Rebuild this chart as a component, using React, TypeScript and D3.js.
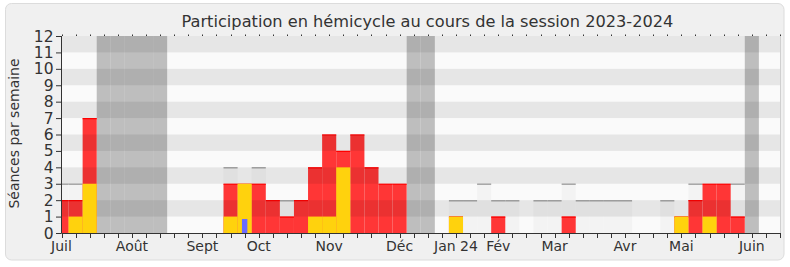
import React, { useEffect } from "react";
import * as d3 from "d3";

const title = "Participation en hémicycle au cours de la session 2023-2024";
const yLabel = "Séances par semaine";
const yTicks = [0, 1, 2, 3, 4, 5, 6, 7, 8, 9, 10, 11, 12];

// 52 weeks, index 0 = first week of July 2023
const totalSeances = [3, 3, 7, 0, 0, 0, 0, 0, 0, 0, 0, 0, 4, 3, 4, 2, 2, 2, 4, 6, 5, 6, 4, 3, 3, 0, 0, 0, 2, 2, 3, 2, 2, 0, 2, 2, 3, 2, 2, 2, 2, 0, 0, 2, 1, 3, 3, 3, 3, 0, 0, 0];
const presences = [2, 2, 7, 0, 0, 0, 0, 0, 0, 0, 0, 0, 3, 3, 3, 2, 1, 2, 4, 6, 5, 6, 4, 3, 3, 0, 0, 0, 1, 0, 0, 1, 0, 0, 0, 0, 1, 0, 0, 0, 0, 0, 0, 0, 1, 2, 3, 3, 1, 0, 0, 0];
const interventions = [0, 1, 3, 0, 0, 0, 0, 0, 0, 0, 0, 0, 1, 3, 0, 0, 0, 0, 1, 1, 4, 0, 0, 0, 0, 0, 0, 0, 1, 0, 0, 0, 0, 0, 0, 0, 0, 0, 0, 0, 0, 0, 0, 0, 1, 0, 1, 0, 0, 0, 0, 0];
const questions = [0, 0, 0, 0, 0, 0, 0, 0, 0, 0, 0, 0, 0, 1, 0, 0, 0, 0, 0, 0, 0, 0, 0, 0, 0, 0, 0, 0, 0, 0, 0, 0, 0, 0, 0, 0, 0, 0, 0, 0, 0, 0, 0, 0, 0, 0, 0, 0, 0, 0, 0, 0];
const vacationWeeks = [3, 4, 5, 6, 7, 25, 26, 49];
const monthLabels = ["Juil", "Août", "Sept", "Oct", "Nov", "Déc", "Jan 24", "Fév", "Mar", "Avr", "Mai", "Juin"];
const monthWeeks = [0, 5, 10, 14, 19, 24, 28, 31, 35, 40, 44, 49];

const W = 790;
const H = 267;
const left = 61.5;
const right = 780;
const top = 36;
const bottom = 233;
const font = "'DejaVu Sans', Verdana, sans-serif";

export default function App() {
  useEffect(() => {
    document.body.style.margin = "0";
  }, []);

  const nWeeks = totalSeances.length;
  const weeks = d3.range(nWeeks);
  const x = d3.scaleLinear().domain([0, nWeeks - 1]).range([left, right]);
  const step = x(1) - x(0);
  const y = d3.scaleLinear().domain([0, 12]).range([bottom, top]);

  const bar = (i: number, v: number, key: string, fill: string, w = step) => (
    <rect key={key} x={x(i) - w / 2} y={y(v)} width={w} height={y(0) - y(v)} fill={fill} />
  );

  return (
    <svg width={W} height={H} style={{ position: "absolute", left: 0, top: 0, background: "#ffffff" }}>
      <defs>
        <clipPath id="plot">
          <rect x={left} y={top} width={right - left} height={bottom - top} />
        </clipPath>
      </defs>
      <rect x={5.5} y={3.5} width={778.5} height={256.5} rx={6} fill="#f0f0f0" stroke="#dcdcdc" />
      <text x={181.5} y={26.5} fontFamily={font} fontSize={16.2} fill="#333">{title}</text>

      <g clipPath="url(#plot)">
        <rect x={left} y={top} width={right - left} height={bottom - top} fill="#fafafa" />
        {vacationWeeks.map((i) => (
          <rect key={"v" + i} x={x(i) - step / 2} y={top} width={step} height={bottom - top} fill="#bebebe" />
        ))}
        {weeks.map((i) => (totalSeances[i] > 0 ? bar(i, totalSeances[i], "t" + i, "#f3f3f3") : null))}
        {weeks.map((i) =>
          totalSeances[i] > presences[i] ? (
            <line key={"tl" + i} x1={x(i) - step / 2} x2={x(i) + step / 2} y1={y(totalSeances[i]) + 0.5} y2={y(totalSeances[i]) + 0.5} stroke="#a8a8a8" strokeWidth={1.5} />
          ) : null
        )}
        {weeks.map((i) => (presences[i] > 0 ? bar(i, presences[i], "p" + i, "#ff3636") : null))}
        {weeks.map((i) =>
          presences[i] > 0 ? (
            <line key={"pl" + i} x1={x(i) - step / 2} x2={x(i) + step / 2} y1={y(presences[i]) + 0.5} y2={y(presences[i]) + 0.5} stroke="#ff0000" strokeWidth={1.2} />
          ) : null
        )}
        {yTicks.slice(0, 12).map((v) =>
          v % 2 === 1 ? (
            <rect key={"s" + v} x={left} y={y(v + 1)} width={right - left} height={y(v) - y(v + 1)} fill="rgba(0,0,0,0.08)" />
          ) : null
        )}
        {weeks.map((i) => (interventions[i] > 0 ? bar(i, interventions[i], "i" + i, "#ffd20d") : null))}
        {weeks.map((i) =>
          questions[i] > 0 ? (
            <rect key={"q" + i} x={x(i) - 2.7} y={y(questions[i]) + 2.4} width={5.4} height={y(0) - y(questions[i]) - 2.4} fill="#6b6bff" />
          ) : null
        )}
      </g>
      <line x1={right + 0.5} x2={right + 0.5} y1={top} y2={bottom} stroke="#d0d0d0" />

      {/* axes */}
      <line x1={left} x2={left} y1={top} y2={bottom} stroke="#333" />
      <line x1={left} x2={right} y1={bottom + 0.5} y2={bottom + 0.5} stroke="#333" />
      {yTicks.map((v) => (
        <g key={"yt" + v}>
          <line x1={56} x2={left} y1={y(v) + 0.5} y2={y(v) + 0.5} stroke="#333" />
          <text x={53.5} y={y(v) + 5.5} textAnchor="end" fontFamily={font} fontSize={15.5} fill="#333">{v}</text>
        </g>
      ))}
      {weeks.map((i) => (
        <g key={"xt" + i}>
          <line x1={Math.round(x(i)) + 0.5} x2={Math.round(x(i)) + 0.5} y1={bottom} y2={bottom + 5} stroke="#333" />
          <line x1={Math.round(x(i)) + 0.5} x2={Math.round(x(i)) + 0.5} y1={top - 1.5} y2={top} stroke="#333" />
        </g>
      ))}
      {monthLabels.map((m, k) => (
        <text key={"m" + k} x={x(monthWeeks[k])} y={251} textAnchor="middle" fontFamily={font} fontSize={14} fill="#333">{m}</text>
      ))}
      <text transform={`translate(18.5, 133.5) rotate(-90)`} textAnchor="middle" fontFamily={font} fontSize={14} fill="#333">{yLabel}</text>
    </svg>
  );
}
